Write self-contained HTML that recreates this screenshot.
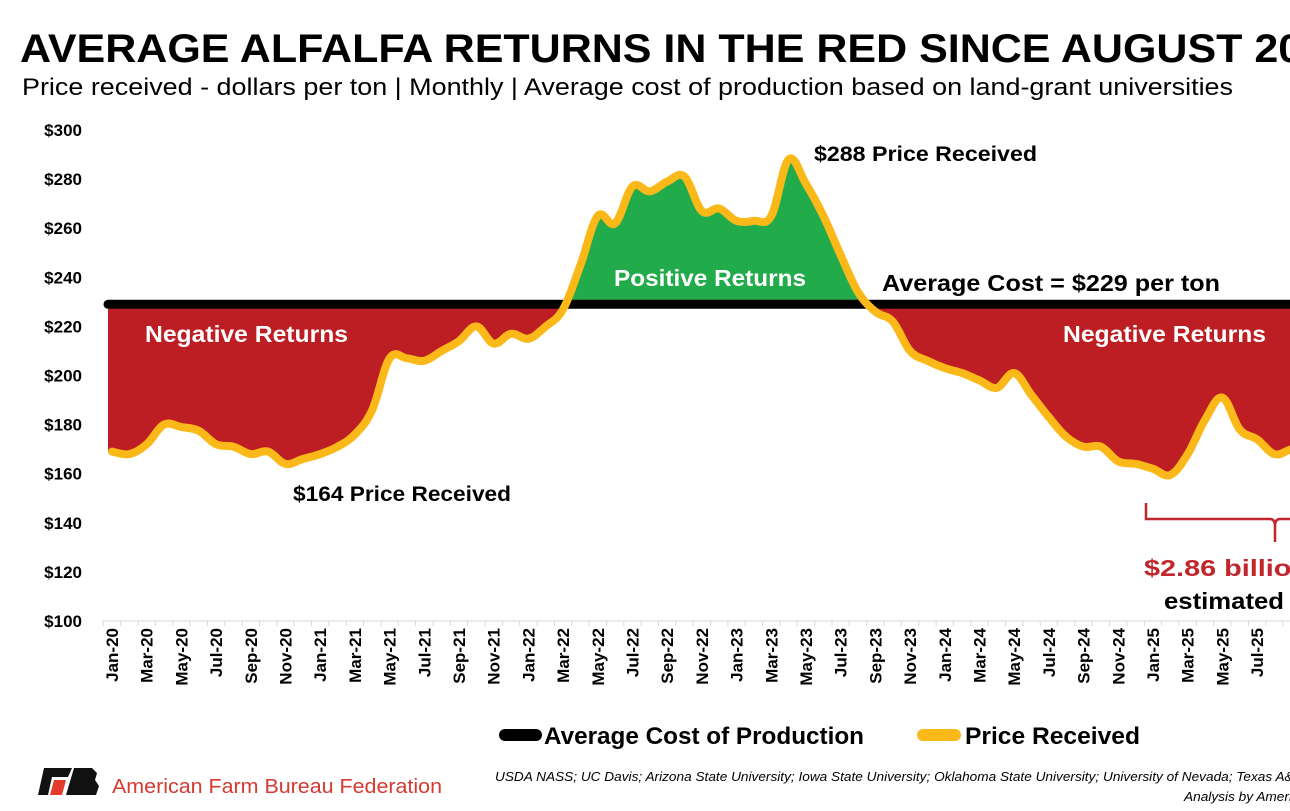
<!DOCTYPE html>
<html><head><meta charset="utf-8"><style>
html,body{margin:0;padding:0;background:#fff;width:1290px;height:811px;overflow:hidden}
svg{display:block;font-family:"Liberation Sans",sans-serif}
</style></head><body>
<svg id="c" width="1290" height="811" viewBox="0 0 1290 811">
<text x="20" y="62" font-size="40" font-weight="bold" textLength="1330" lengthAdjust="spacingAndGlyphs">AVERAGE ALFALFA RETURNS IN THE RED SINCE AUGUST 2023</text>
<text x="22" y="95" font-size="24" textLength="1211" lengthAdjust="spacingAndGlyphs">Price received - dollars per ton | Monthly | Average cost of production based on land-grant universities</text>
<defs>
<clipPath id="above"><rect x="0" y="0" width="1290" height="304"/></clipPath>
<clipPath id="below"><rect x="0" y="304" width="1290" height="400"/></clipPath>
</defs>
<g id="plot"></g>
<g id="labels" font-weight="bold">
<text x="145" y="342" font-size="23" fill="#fff" textLength="203" lengthAdjust="spacingAndGlyphs">Negative Returns</text>
<text x="614" y="286" font-size="23" fill="#fff" textLength="192" lengthAdjust="spacingAndGlyphs">Positive Returns</text>
<text x="882" y="291" font-size="23" textLength="338" lengthAdjust="spacingAndGlyphs">Average Cost = $229 per ton</text>
<text x="814" y="161" font-size="21" textLength="223" lengthAdjust="spacingAndGlyphs">$288  Price Received</text>
<text x="293" y="501" font-size="21" textLength="218" lengthAdjust="spacingAndGlyphs">$164 Price Received</text>
<text x="1063" y="342" font-size="23" fill="#fff" textLength="203" lengthAdjust="spacingAndGlyphs">Negative Returns</text>
<path d="M1146 503 V519 H1270 Q1275 519 1275 526 V542 M1275 526 Q1275 519 1280 519 H1295" fill="none" stroke="#c0272d" stroke-width="2.5"/>
<text x="1144" y="576" font-size="23" fill="#c0272d" textLength="165" lengthAdjust="spacingAndGlyphs">$2.86 billion</text>
<text x="1164" y="609" font-size="23" textLength="120" lengthAdjust="spacingAndGlyphs">estimated</text>
</g>
<g>
<line x1="505" y1="735" x2="536" y2="735" stroke="#000" stroke-width="12" stroke-linecap="round"/>
<text x="544" y="744" font-size="24" font-weight="bold" textLength="320" lengthAdjust="spacingAndGlyphs">Average Cost of Production</text>
<line x1="923" y1="735" x2="955" y2="735" stroke="#fbb819" stroke-width="12" stroke-linecap="round"/>
<text x="965" y="744" font-size="24" font-weight="bold" textLength="175" lengthAdjust="spacingAndGlyphs">Price Received</text>
</g>
<g>
<polygon points="44,768 72,768 68,777 52,777 48,795 38,795" fill="#111"/>
<polygon points="54,780 66,780 62,795 50,795" fill="#e23b2e"/>
<polygon points="74,768 92,768 97,773 95,780 99,786 96,795 66,795" fill="#111"/>
<text x="112" y="793" font-size="20" fill="#d63a31" textLength="330" lengthAdjust="spacingAndGlyphs">American Farm Bureau Federation</text>
</g>
<text x="495" y="781" font-size="13" font-style="italic" textLength="810" lengthAdjust="spacingAndGlyphs">USDA NASS; UC Davis; Arizona State University; Iowa State University; Oklahoma State University; University of Nevada; Texas A&amp;M</text>
<text x="1184" y="801" font-size="13" font-style="italic" textLength="130" lengthAdjust="spacingAndGlyphs">Analysis by American</text>
</svg>
<script>
const months = ["Jan","Feb","Mar","Apr","May","Jun","Jul","Aug","Sep","Oct","Nov","Dec"];
const prices = [169,168,172,180,179,177.5,172,171,168,169,164,166,168,171,176,186,207,207,206,210,214,220,213,217,215,220,227,245,265,262,277,275,279,281,267,268,263,263,265,288,278,265,249,234,226,222,210,206,203,201,198,195,201,192,183,175,171,171,165,164,162,159.5,168,182,191,178,174,168,170];
const avgCost = [229];
const yTicks = [100,120,140,160,180,200,220,240,260,280,300];
const lastLabelIndex = 66;
const NS = "http://www.w3.org/2000/svg";
const svg = document.getElementById("c");
const plot = document.getElementById("plot");
const x = i => 112 + i * 17.35;
const y = v => 621 - (v - 100) * 2.455;
function mk(tag, attrs, parent){const e=document.createElementNS(NS,tag);for(const k in attrs)e.setAttribute(k,attrs[k]);(parent||plot).appendChild(e);return e;}
const axis = mk("line",{x1:102,y1:621,x2:1290,y2:621,stroke:"#d9d9d9","stroke-width":1});


for(let i=0;i<=69;i++){
  const t = mk("line",{x1:x(i)-8.7,y1:621,x2:x(i)-8.7,y2:626,stroke:"#d9d9d9","stroke-width":1});
  
  
}
yTicks.forEach(v=>{
  const t = mk("text",{x:82,y:y(v)+6,"text-anchor":"end","font-size":17,"font-weight":"bold"},svg);
  t.textContent = "$"+v;
  
  
});
for(let i=0;i<=Math.min(lastLabelIndex,prices.length-1);i+=2){
  const lab = months[i%12]+"-"+(20+Math.floor(i/12));
  const t = mk("text",{x:0,y:0,transform:`translate(${x(i)+6},628) rotate(-90)`,"text-anchor":"end","font-size":17,"font-weight":"bold"},svg);
  t.textContent = lab;
  
  
}
// smooth path (Catmull-Rom)
const P = prices.map((v,i)=>[x(i),y(v)]);
P.push([x(prices.length-1)+30, y(prices[prices.length-1])-8]);
function smooth(p){
  let d = `M${p[0][0]},${p[0][1]}`;
  for(let i=0;i<p.length-1;i++){
    const p0=p[Math.max(0,i-1)],p1=p[i],p2=p[i+1],p3=p[Math.min(p.length-1,i+2)];
    const t=0.18;
    d += ` C${p1[0]+(p2[0]-p0[0])*t},${p1[1]+(p2[1]-p0[1])*t} ${p2[0]-(p3[0]-p1[0])*t},${p2[1]-(p3[1]-p1[1])*t} ${p2[0]},${p2[1]}`;
  }
  return d;
}
const lineD = smooth(P);
const cy = y(avgCost[0]);
const areaD = `M${x(0)-4},${cy} L${x(0)-4},${P[0][1]} L` + lineD.slice(1) + ` L${P[P.length-1][0]},${cy} Z`;
const g = mk("path",{d:areaD,fill:"#22ab4a","clip-path":"url(#above)"});


const r = mk("path",{d:areaD,fill:"#bd1e24","clip-path":"url(#below)"});


const cl = mk("line",{x1:108,y1:cy,x2:1300,y2:cy,stroke:"#000","stroke-width":9,"stroke-linecap":"round"});


const pl = mk("path",{d:lineD,fill:"none",stroke:"#fbb819","stroke-width":8,"stroke-linejoin":"round","stroke-linecap":"round"});


</script>
</body></html>
